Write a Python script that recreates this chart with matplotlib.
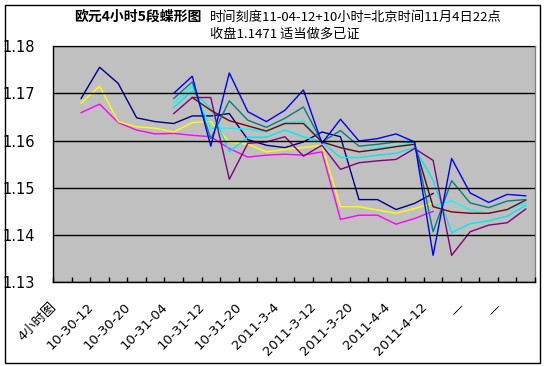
import matplotlib
matplotlib.use("Agg")
import matplotlib.pyplot as plt
import matplotlib.transforms as mtransforms
from matplotlib.patches import Rectangle
import numpy as np

nan = np.nan

labels = ['4小时图', '10-30-12', '10-30-20', '10-31-04', '10-31-12', '10-31-20',
          '2011-3-4', '2011-3-12', '2011-3-20', '2011-4-4', '2011-4-12', '—', '—']
n_cat = 26

navy = [nan, 1.1689, 1.1755, 1.1721, 1.1648, 1.1640, 1.1636, 1.1652, 1.1652, 1.1657,
        1.1602, 1.1590, 1.1585, 1.1597, 1.1618, 1.1608, 1.1475, 1.1475, 1.1454, 1.1467,
        1.1488, nan, nan, nan, nan, nan]
magenta = [nan, 1.1659, 1.1677, 1.1638, 1.1622, 1.1614, 1.1615, 1.1611, 1.1608, 1.1583,
           1.1565, 1.1569, 1.1571, 1.1569, 1.1576, 1.1433, 1.1442, 1.1442, 1.1423, 1.1435,
           1.1450, nan, nan, nan, nan, nan]
yellow = [nan, 1.1679, 1.1715, 1.1640, 1.1629, 1.1626, 1.1618, 1.1638, 1.1640, 1.1597,
          1.1592, 1.1576, 1.1581, 1.1585, 1.1590, 1.1460, 1.1460, 1.1453, 1.1446, 1.1456,
          1.1468, nan, nan, nan, nan, nan]
cyan_a = [nan] * 6 + [1.1679, 1.1715, 1.1626, 1.1626, 1.1624, 1.1618, 1.1638, 1.1641,
                      1.1597, 1.1585, 1.1576, 1.1585, 1.1588, 1.1596, 1.1460, 1.1472,
                      1.1453, 1.1446, 1.1453, 1.1468]
cyan_b = [nan] * 6 + [1.1670, 1.1705, 1.1668, 1.1576, 1.1607, 1.1607, 1.1622, 1.1608,
                      1.1597, 1.1564, 1.1564, 1.1569, 1.1573, 1.1585, 1.1516, 1.1405,
                      1.1424, 1.1430, 1.1440, 1.1463]
purple = [nan] * 6 + [1.1657, 1.1691, 1.1691, 1.1518, 1.1594, 1.1597, 1.1608, 1.1567,
                      1.1590, 1.1539, 1.1553, 1.1557, 1.1560, 1.1583, 1.1558, 1.1357,
                      1.1407, 1.1421, 1.1426, 1.1455]
darkred = [nan] * 7 + [1.1691, 1.1664, 1.1642, 1.1631, 1.1620, 1.1636, 1.1636,
                       1.1597, 1.1585, 1.1576, 1.1581, 1.1587, 1.1592, 1.1460, 1.1449,
                       1.1446, 1.1446, 1.1454, 1.1474]
teal = [nan] * 6 + [1.1689, 1.1724, 1.1604, 1.1684, 1.1643, 1.1628, 1.1647, 1.1671,
                    1.1597, 1.1621, 1.1588, 1.1592, 1.1597, 1.1596, 1.1407, 1.1515,
                    1.1468, 1.1458, 1.1472, 1.1475]
blue = [nan] * 6 + [1.1700, 1.1736, 1.1588, 1.1743, 1.1661, 1.1640, 1.1664, 1.1707,
                    1.1594, 1.1645, 1.1599, 1.1604, 1.1614, 1.1597, 1.1357, 1.1562,
                    1.1489, 1.1469, 1.1486, 1.1483]

series = [(navy, '#000080'), (magenta, '#FF00FF'), (yellow, '#FFFF00'),
          (cyan_a, '#00FFFF'), (cyan_b, '#00E8F0'), (purple, '#800080'),
          (darkred, '#800000'), (teal, '#008080'), (blue, '#0000FF')]

plt.rcParams['font.family'] = ['DejaVu Sans', 'Noto Sans CJK SC']

W, H = 551, 366
fig = plt.figure(figsize=(W / 100, H / 100), dpi=100)
ax = fig.add_axes([53.3 / W, 1 - 282.3 / H, (535 - 53.3) / W, (282.3 - 46) / H])
ax.set_facecolor('#C0C0C0')

x = np.arange(n_cat)
for vals, color in series:
    ax.plot(x, vals, color=color, lw=1.0)

ax.set_xlim(-0.5, n_cat - 0.5)
ax.set_ylim(1.13, 1.18)
ax.set_yticks([1.13, 1.14, 1.15, 1.16, 1.17, 1.18])
ax.set_yticklabels(['1.13', '1.14', '1.15', '1.16', '1.17', '1.18'], fontsize=10.5)
ax.yaxis.grid(True, color='black', lw=1)
ax.set_axisbelow(False)
ax.tick_params(axis='y', length=0, pad=13)

ax.set_xticks(np.arange(0, n_cat, 2))
ax.set_xticklabels(labels, fontsize=9.5, rotation=45, ha='right', va='center',
                   rotation_mode='anchor')
ax.set_xticks(np.arange(-0.5, n_cat, 1), minor=True)
ax.tick_params(axis='x', which='major', length=0, pad=16.5)
ax.tick_params(axis='x', which='minor', direction='in', length=3.5, width=1)
offset = mtransforms.ScaledTranslation(-8 / 100, 0, fig.dpi_scale_trans)
for lab in ax.get_xticklabels():
    lab.set_transform(lab.get_transform() + offset)

for s in ['left', 'bottom']:
    ax.spines[s].set_color('black')
    ax.spines[s].set_linewidth(1)
for s in ['top', 'right']:
    ax.spines[s].set_color('#808080')
    ax.spines[s].set_linewidth(1)

fig.text(74 / W, 1 - 17 / H, '欧元4小时5段蝶形图', fontsize=10, fontweight='bold',
         family=['Noto Sans CJK SC'], ha='left', va='center')
fig.text(210 / W, 1 - 17 / H, '时间刻度11-04-12+10小时=北京时间11月4日22点', fontsize=9.5,
         family=['Noto Sans CJK SC'], ha='left', va='center')
fig.text(210 / W, 1 - 34 / H, '收盘1.1471 适当做多已证', fontsize=9.5,
         family=['Noto Sans CJK SC'], ha='left', va='center')

fig.patches.append(Rectangle((5 / W, 1 - 363 / H), 535 / W, 358 / H,
                             transform=fig.transFigure, fill=False,
                             edgecolor='black', lw=1))

fig.savefig('out.png', dpi=100)
